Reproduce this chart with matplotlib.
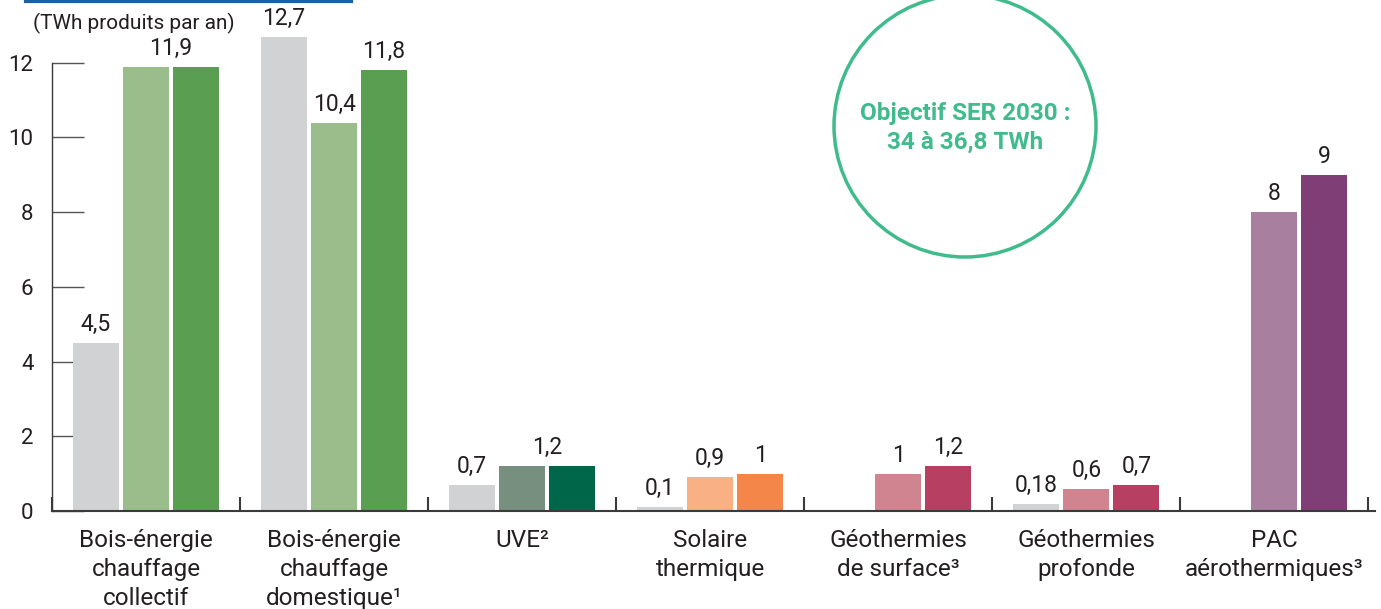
import matplotlib
matplotlib.use("Agg")
import matplotlib.pyplot as plt
from matplotlib.patches import Circle
import numpy as np

plt.rcParams['font.family'] = ['Roboto', 'DejaVu Sans']

categories = ["Bois-énergie\nchauffage\ncollectif",
              "Bois-énergie\nchauffage\ndomestique¹",
              "UVE²",
              "Solaire\nthermique",
              "Géothermies\nde surface³",
              "Géothermies\nprofonde",
              "PAC\naérothermiques³"]
# three bars per category (left: grey, middle: light, right: dark); None = no bar
values_left = [4.5, 12.7, 0.7, 0.1, None, 0.18, None]
values_mid = [11.9, 10.4, 1.2, 0.9, 1.0, 0.6, 8.0]
values_right = [11.9, 11.8, 1.2, 1.0, 1.2, 0.7, 9.0]

colors_left = ["#d1d2d4"] * 7
colors_mid = ["#9bbd8b", "#9bbd8b", "#768f7f", "#f9b085", "#cf8490", "#cf8490", "#a97fa0"]
colors_right = ["#5a9e52", "#5a9e52", "#00664a", "#f5864a", "#b74062", "#b74062", "#7f3f76"]

yticks = [0, 2, 4, 6, 8, 10, 12]
unit_label = "(TWh produits par an)"
target_text = "Objectif SER 2030 :\n34 à 36,8 TWh"

W, H = 1381, 609
fig = plt.figure(figsize=(W / 100, H / 100), dpi=100)
ax = fig.add_axes([52 / W, (609 - 511) / H, 1323 / W, 508 / H])
ax.set_xlim(-0.5, 6.535)
ax.set_ylim(0, 13.6)

step = 50 / 188
bw = 46 / 188
txtc = "#231f20"
vfs = 16.5


def fmt(v):
    return f"{v:g}".replace(".", ",")


def put(x, v):
    ax.annotate(fmt(v), (x, v), xytext=(0, 5), textcoords="offset points",
                ha="center", va="bottom", fontsize=vfs, color=txtc)


for i in range(len(categories)):
    trip = [(values_left[i], colors_left[i], -step),
            (values_mid[i], colors_mid[i], 0),
            (values_right[i], colors_right[i], step)]
    for v, c, off in trip:
        if v is None:
            continue
        ax.bar(i + off, v, width=bw, color=c, zorder=2)
    l, m, r = values_left[i], values_mid[i], values_right[i]
    if l is not None:
        put(i - step, l)
    if m is not None and r is not None and m == r:
        put(i + step / 2, m)
    else:
        if m is not None:
            put(i, m)
        if r is not None:
            put(i + step, r)

# axes styling
for s in ["top", "right"]:
    ax.spines[s].set_visible(False)
ax.spines["left"].set_bounds(0, 12)
ax.spines["left"].set_color("#3a3a3a")
ax.spines["bottom"].set_color("#3a3a3a")
ax.spines["left"].set_linewidth(1.0)
ax.spines["bottom"].set_linewidth(1.5)
ax.set_axisbelow(True)

ax.set_yticks(yticks)
ax.set_yticklabels([str(t) for t in yticks], fontsize=16, color=txtc)
ax.tick_params(axis="y", direction="in", length=23, width=1.0, color="#555555", pad=-2)
for lab in ax.get_yticklabels():
    lab.set_x(-0.016)

ax.set_xticks(np.arange(-0.5, 7, 1))
ax.set_xticklabels([])
ax.tick_params(axis="x", which="major", direction="in", length=10, width=1.5, color="#3a3a3a")
ax.set_xticks(np.arange(len(categories)), minor=True)
ax.set_xticklabels(categories, minor=True, fontsize=17.5, color=txtc, linespacing=1.33)
ax.tick_params(axis="x", which="minor", length=0, pad=13)

# unit label
fig.text(33 / W, 1 - 23 / H, unit_label, fontsize=15, color=txtc, ha="left", va="center")

# blue line top
fig.add_artist(plt.Line2D([26 / W, 351 / W], [1 - 1 / H, 1 - 1 / H], color="#1f5fa6", lw=3))

# target circle (in pixel coordinates)
circ = Circle((965, H - 126), 131, transform=None, fill=False, edgecolor="#3fbb8c", lw=2.5)
fig.add_artist(circ)
fig.text(965 / W, 1 - 128 / H, target_text, fontsize=17.5, fontweight="bold", color="#3fbb8c",
         ha="center", va="center", linespacing=1.3)

fig.savefig("out.png", dpi=100)
